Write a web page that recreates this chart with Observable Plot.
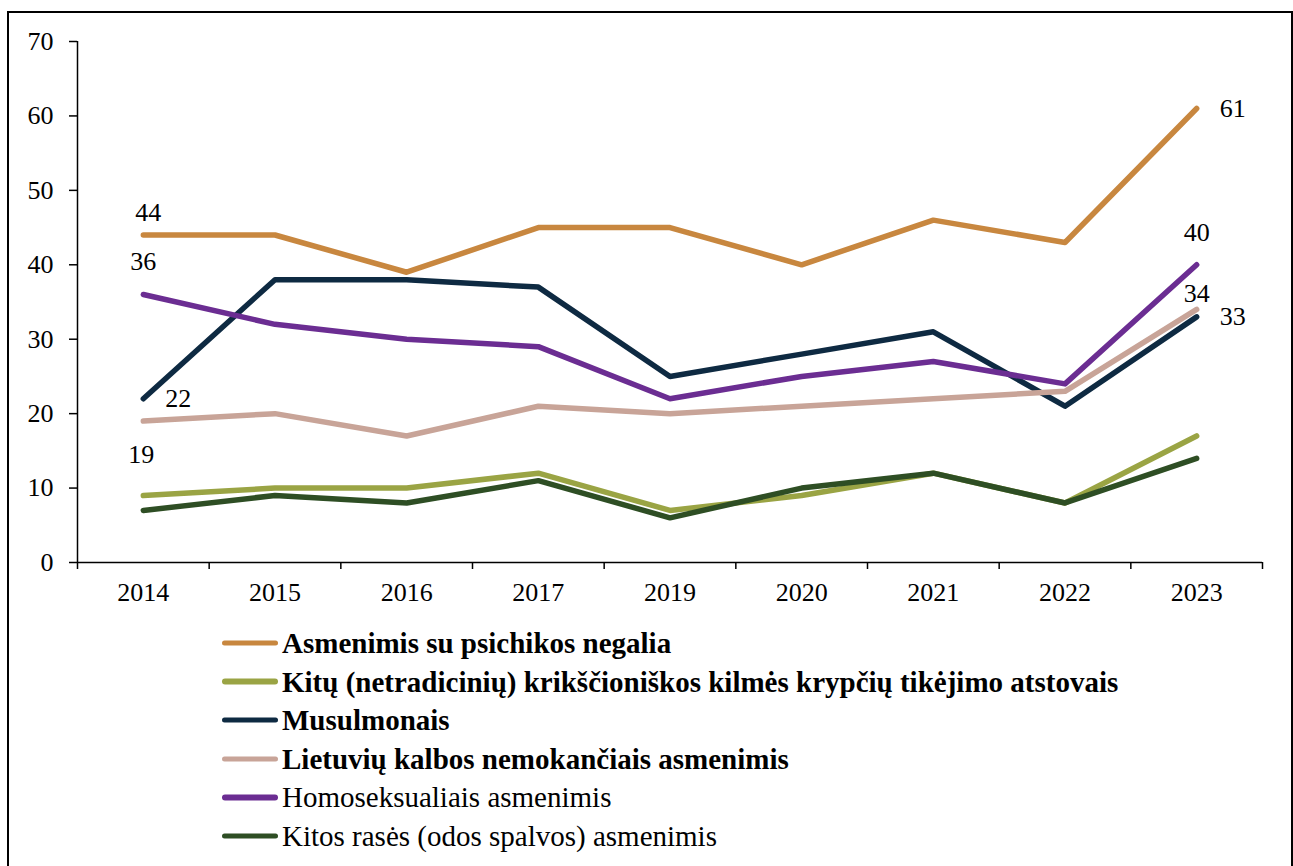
<!DOCTYPE html>
<html>
<head>
<meta charset="utf-8">
<script src="https://cdn.jsdelivr.net/npm/d3@7"></script>
<script src="https://cdn.jsdelivr.net/npm/@observablehq/plot@0.6"></script>
<style>
  html, body { margin: 0; padding: 0; background: #fff; overflow: hidden; width: 1293px; height: 866px; }
  #frame { position: absolute; left: 7px; top: 11px; width: 1286px; height: 900px; border: 2px solid #000; box-sizing: border-box; }
  #chart { position: absolute; left: 0; top: 0; }
  #legend { position: absolute; left: 222px; top: 0; font-family: "Liberation Serif", Tinos, "Times New Roman", "DejaVu Serif", serif; font-size: 29px; color: #000; }
  .item { position: absolute; left: 0; white-space: nowrap; display: flex; align-items: center; transform: translateY(-50%); line-height: 1; }
  .sw { width: 56px; height: 5.5px; border-radius: 3px; margin-right: 4px; flex: none; }
</style>
</head>
<body>
<div id="frame"></div>
<div id="chart"></div>
<div id="legend"></div>
<script>
const years = ["2014","2015","2016","2017","2019","2020","2021","2022","2023"];
const seriesNames = [
  "Asmenimis su psichikos negalia",
  "Kitų (netradicinių) krikščioniškos kilmės krypčių tikėjimo atstovais",
  "Musulmonais",
  "Lietuvių kalbos nemokančiais asmenimis",
  "Homoseksualiais asmenimis",
  "Kitos rasės (odos spalvos) asmenimis"
];
const psichikosNegalia = [44, 44, 39, 45, 45, 40, 46, 43, 61];
const netradiciniai    = [9, 10, 10, 12, 7, 9, 12, 8, 17];
const musulmonai       = [22, 38, 38, 37, 25, 28, 31, 21, 33];
const kalbosNemokantys = [19, 20, 17, 21, 20, 21, 22, 23, 34];
const homoseksualai    = [36, 32, 30, 29, 22, 25, 27, 24, 40];
const kitosRases       = [7, 9, 8, 11, 6, 10, 12, 8, 14];
const seriesValues = [psichikosNegalia, netradiciniai, musulmonai, kalbosNemokantys, homoseksualai, kitosRases];
const yTicks = [0, 10, 20, 30, 40, 50, 60, 70];

// labelled points: series index + year
const labelPoints = [
  {s: 0, year: "2014"}, {s: 4, year: "2014"}, {s: 2, year: "2014"}, {s: 3, year: "2014"},
  {s: 0, year: "2023"}, {s: 4, year: "2023"}, {s: 3, year: "2023"}, {s: 2, year: "2023"}
];

// styles
const FONT = "'Liberation Serif', Tinos, 'Times New Roman', 'DejaVu Serif', serif";
const colors = ["#C8873F", "#9AA444", "#0E2A42", "#C8A498", "#6B2D92", "#2E4E24"];
const boldLegend = [true, true, true, true, false, false];
const labelOffsets = [[5, -22], [0, -33], [35, 0], [-2, 34], [36, 0], [0, -32], [0, -16], [36, 0]];

const rows = [];
seriesValues.forEach((vals, s) => vals.forEach((v, i) => rows.push({series: seriesNames[s], i, year: years[i], value: v})));

const labelMarks = labelPoints.map((p, k) => {
  const i = years.indexOf(p.year);
  const d = {i, value: seriesValues[p.s][i]};
  return Plot.text([d], {x: "i", y: "value", text: d => String(d.value), dx: labelOffsets[k][0], dy: labelOffsets[k][1], fontSize: 26, fill: "#000", fontFamily: FONT});
});

const chart = Plot.plot({
  width: 1293, height: 610,
  marginLeft: 77, marginRight: 31, marginTop: 41, marginBottom: 48,
  style: {fontFamily: FONT, fontSize: "26px", color: "#000", background: "transparent", overflow: "visible"},
  x: {type: "linear", domain: [-0.5, years.length - 0.5], label: null},
  y: {domain: [0, 70], label: null},
  color: {domain: seriesNames, range: colors},
  marks: [
    Plot.axisY({ticks: yTicks, tickSize: 8, tickPadding: 16, fontSize: 26, label: null, strokeWidth: 1.5, fontFamily: FONT}),
    Plot.axisX({ticks: years.map((_, i) => i), tickFormat: i => years[i], tickSize: 0, tickPadding: 20, fontSize: 26, label: null, fontFamily: FONT}),
    Plot.axisX({ticks: d3.range(-0.5, years.length, 1), tickFormat: () => "", tickSize: 7, label: null, strokeWidth: 1.5}),
    Plot.ruleY([0], {stroke: "#000", strokeWidth: 1.5}),
    Plot.ruleX([-0.5], {y1: 0, y2: 70, stroke: "#000", strokeWidth: 1.5}),
    Plot.lineY(rows, {x: "i", y: "value", z: "series", stroke: "series", strokeWidth: 5.5, strokeLinecap: "round", strokeLinejoin: "round"}),
    ...labelMarks
  ]
});
document.getElementById("chart").appendChild(chart);

const legend = document.getElementById("legend");
const legendTop = 643, legendStep = 38.6;
seriesNames.forEach((name, s) => {
  const item = document.createElement("div");
  item.className = "item";
  item.style.top = (legendTop + s * legendStep) + "px";
  item.style.fontWeight = boldLegend[s] ? "bold" : "normal";
  const sw = document.createElement("span");
  sw.className = "sw";
  sw.style.background = colors[s];
  const t = document.createElement("span");
  t.textContent = name;
  item.appendChild(sw);
  item.appendChild(t);
  legend.appendChild(item);
});
</script>
</body>
</html>
